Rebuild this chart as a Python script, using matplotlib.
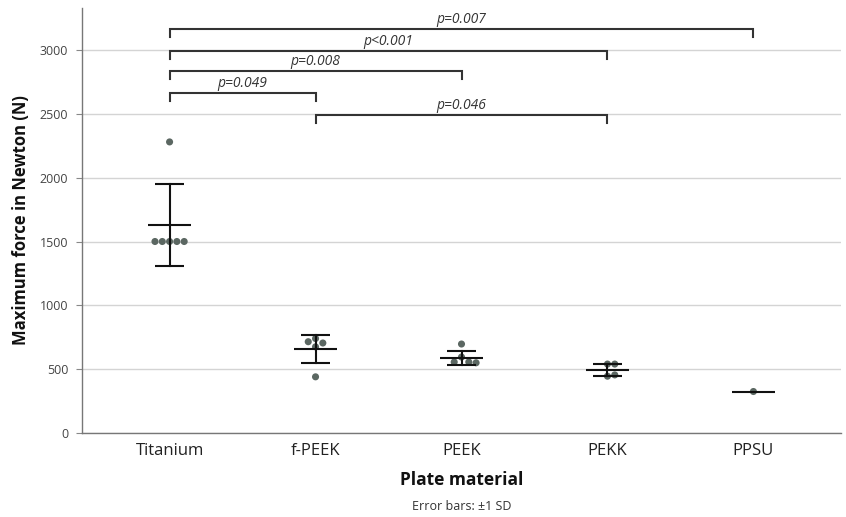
import matplotlib
matplotlib.use("Agg")
import matplotlib.pyplot as plt
import numpy as np

# ---------------- data ----------------
categories = ["Titanium", "f-PEEK", "PEEK", "PEKK", "PPSU"]
values_titanium = [2280, 1500, 1500, 1500, 1500, 1500]
values_fpeek = [440, 675, 705, 715, 740]
values_peek = [697, 595, 556, 556, 550]
values_pekk = [540, 540, 445, 455]
values_ppsu = [325]
group_values = [values_titanium, values_fpeek, values_peek, values_pekk, values_ppsu]

means = [1630, 658, 588, 495, 325]
sds = [320, 110, 55, 47, 0]

comparisons = [(0, 4, "p=0.007"), (0, 3, "p<0.001"), (0, 2, "p=0.008"),
               (0, 1, "p=0.049"), (1, 3, "p=0.046")]
bracket_levels = [3164, 2992, 2835, 2663, 2491]

yticks = [0, 500, 1000, 1500, 2000, 2500, 3000]

# ---------------- figure ----------------
plt.rcParams['font.family'] = ['Open Sans', 'DejaVu Sans']
W, H, DPI = 846, 517, 100
fig = plt.figure(figsize=(W / DPI, H / DPI), dpi=DPI)
ax_left, ax_right, ax_bottom, ax_top = 82 / W, 841 / W, 1 - 433 / H, 1 - 8 / H
ax = fig.add_axes([ax_left, ax_bottom, ax_right - ax_left, ax_top - ax_bottom])

xmin, xmax, ymin, ymax = -0.6, 4.6, 0, 3329
ax.set_xlim(xmin, xmax)
ax.set_ylim(ymin, ymax)

# pixel scales for a simple swarm layout
px_per_x = (ax_right - ax_left) * W / (xmax - xmin)
px_per_y = (ax_top - ax_bottom) * H / (ymax - ymin)
dot_d = 7.3  # pixels


def swarm_offsets(vals):
    placed = []
    offs = []
    for v in vals:
        yp = v * px_per_y
        cand = [0]
        for i in range(1, 20):
            cand += [i * dot_d, -i * dot_d]
        for c in cand:
            ok = True
            for (px, py) in placed:
                if (px - c) ** 2 + (py - yp) ** 2 < (dot_d * 0.98) ** 2:
                    ok = False
                    break
            if ok:
                placed.append((c, yp))
                offs.append(c / px_per_x)
                break
    return offs


dot_color = "#5b6762"
for i, vals in enumerate(group_values):
    offs = swarm_offsets(vals)
    xs = [i + o for o in offs]
    ax.scatter(xs, vals, s=26, color=dot_color, edgecolors="none", zorder=3)

# error bars and means
lw = 1.5
for i, (m, s) in enumerate(zip(means, sds)):
    ax.plot([i - 0.15, i + 0.15], [m, m], color="#111111", lw=lw, zorder=4, solid_capstyle="butt")
    if s > 0:
        ax.plot([i, i], [m - s, m + s], color="#111111", lw=lw, zorder=4)
        ax.plot([i - 0.1, i + 0.1], [m + s, m + s], color="#111111", lw=lw, zorder=4, solid_capstyle="butt")
        ax.plot([i - 0.1, i + 0.1], [m - s, m - s], color="#111111", lw=lw, zorder=4, solid_capstyle="butt")

# significance brackets
tick_len = 65
for (a, b, txt), lev in zip(comparisons, bracket_levels):
    ax.plot([a, a, b, b], [lev - tick_len, lev, lev, lev - tick_len], color="#333333",
            lw=1.5, zorder=4, solid_joinstyle="miter")
    ax.text((a + b) / 2, lev + 15, txt, ha="center", va="bottom", fontsize=10,
            style="italic", color="#333333")

# axes styling
ax.set_yticks(yticks)
ax.set_yticklabels([str(t) for t in yticks], fontsize=9, color="#444444")
ax.set_xticks(range(len(categories)))
ax.set_xticklabels(categories, fontsize=12, color="#222222")
ax.tick_params(axis="x", length=0, pad=7)
ax.tick_params(axis="y", length=4, color="#888888", pad=6)
ax.grid(axis="y", color="#d4d4d4", lw=1.0)
ax.set_axisbelow(True)
for sp in ["top", "right"]:
    ax.spines[sp].set_visible(False)
for sp in ["left", "bottom"]:
    ax.spines[sp].set_color("#777777")
    ax.spines[sp].set_linewidth(1.0)

ax.set_ylabel("Maximum force in Newton (N)", fontsize=12, fontweight="bold", color="#111111", labelpad=7)
ax.set_xlabel("Plate material", fontsize=12.5, fontweight="bold", color="#111111", labelpad=9)
fig.text((ax_left + ax_right) / 2, 1 - 507 / H, "Error bars: \u00b11 SD", ha="center", va="center",
         fontsize=9, color="#333333")

fig.savefig("out.png", dpi=DPI)
